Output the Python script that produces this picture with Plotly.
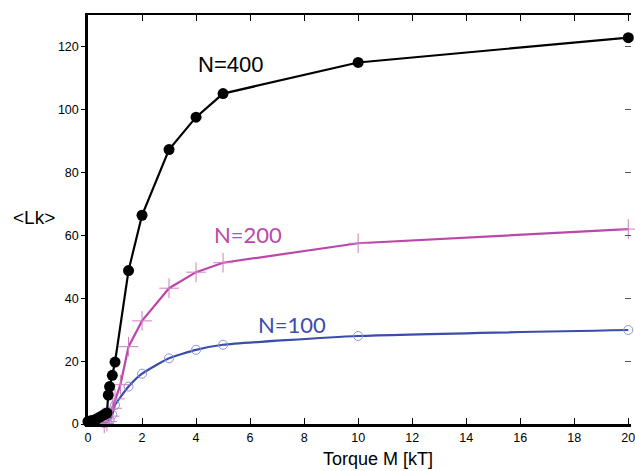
import plotly.graph_objects as go

# N=400 (black filled circles)
x400 = [0, 0.1, 0.2, 0.3, 0.4, 0.5, 0.6, 0.7, 0.75, 0.8, 0.9, 1.0, 1.5, 2, 3, 4, 5, 10, 20]
y400 = [0.8, 1.0, 1.2, 1.5, 2.0, 2.5, 3.0, 3.5, 9.2, 11.9, 15.5, 19.7, 48.8, 66.4, 87.3, 97.6, 105.1, 115.0, 122.9]

# N=200 (magenta crosses)
x200 = [0, 0.2, 0.4, 0.6, 0.7, 0.8, 0.9, 1.0, 1.2, 1.5, 2, 3, 4, 5, 10, 20]
y200 = [-0.6, -0.6, -0.4, 0.2, 0.8, 2.5, 5.0, 8.0, 12.5, 24.6, 32.8, 43.2, 48.3, 51.3, 57.5, 62.0]

# N=100 (blue open circles)
x100 = [0, 0.2, 0.4, 0.6, 0.7, 0.8, 0.9, 1.0, 1.5, 2, 3, 4, 5, 10, 20]
y100 = [-0.6, -0.4, -0.1, 0.3, 0.7, 1.3, 3.0, 6.0, 11.9, 16.0, 20.9, 23.6, 25.2, 28.0, 29.9]

xticks = [0, 2, 4, 6, 8, 10, 12, 14, 16, 18, 20]
yticks = [0, 20, 40, 60, 80, 100, 120]

XR = [0, 20.1]
YR = [0, 130.1]

fig = go.Figure()

fig.add_trace(go.Scatter(
    x=x100, y=y100, mode="lines+markers",
    line=dict(color="#3a4da8", width=2.2, shape="spline", smoothing=0.5),
    marker=dict(symbol="circle-open", size=9, color="#8c93d8", line=dict(width=1)),
    cliponaxis=False, showlegend=False))

fig.add_trace(go.Scatter(
    x=x200, y=y200, mode="lines+markers",
    line=dict(color="#bb48a8", width=2.2),
    marker=dict(symbol="cross-thin-open", size=14, color="#cf7cc4", line=dict(width=1, color="#cf7cc4")),
    cliponaxis=False, showlegend=False))

fig.add_trace(go.Scatter(
    x=x400, y=y400, mode="lines+markers",
    line=dict(color="black", width=2.2),
    marker=dict(symbol="circle", size=11, color="black"),
    cliponaxis=False, showlegend=False))

# dummy trace for mirrored axes
fig.add_trace(go.Scatter(x=[0], y=[0], xaxis="x2", yaxis="y2", mode="markers",
                         marker=dict(opacity=0), showlegend=False, hoverinfo="skip"))

tickfont = dict(family="Liberation Sans, Arial", size=12.5, color="black")

fig.update_layout(
    width=635, height=471,
    margin=dict(l=88, r=0, t=15, b=47),
    plot_bgcolor="white", paper_bgcolor="white",
    xaxis=dict(range=XR, tickvals=xticks, ticks="inside", ticklen=6, tickcolor="black",
               showline=True, linecolor="black", linewidth=2.5, showgrid=False, zeroline=False,
               tickfont=tickfont, ticklabeloverflow="allow"),
    yaxis=dict(range=YR, tickvals=yticks, ticks="outside", ticklen=4, tickcolor="black",
               showline=True, linecolor="black", linewidth=2.5, showgrid=False, zeroline=False,
               tickfont=tickfont),
    xaxis2=dict(range=XR, tickvals=xticks, overlaying="x", side="top", ticks="inside", ticklen=6,
                tickcolor="black", showline=True, linecolor="black", linewidth=1.5,
                showticklabels=False, showgrid=False, zeroline=False),
    yaxis2=dict(range=YR, tickvals=yticks, overlaying="y", side="right", ticks="inside", ticklen=6,
                tickcolor="#555", showline=False,
                showticklabels=False, showgrid=False, zeroline=False),
    annotations=[
        dict(x=5.26, y=114.5, xref="x", yref="y", text="N=400", showarrow=False,
             xanchor="center", yanchor="middle",
             font=dict(family="Liberation Sans, Arial", size=22, color="black")),
        dict(x=5.94, y=60.4, xref="x", yref="y", text="N=200", showarrow=False,
             xanchor="center", yanchor="middle",
             font=dict(family="Lato", size=22, color="#bb48a8")),
        dict(x=7.55, y=31.5, xref="x", yref="y", text="N=100", showarrow=False,
             xanchor="center", yanchor="middle",
             font=dict(family="Lato", size=22, color="#3a4da8")),
        dict(x=(34 - 88) / 547, y=(424 - 217) / 409, xref="paper", yref="paper",
             text="&lt;Lk&gt;", showarrow=False, xanchor="center", yanchor="middle",
             font=dict(family="Liberation Sans, Arial", size=19, color="black")),
        dict(x=(380 - 88) / 547, y=(424 - 459) / 409, xref="paper", yref="paper",
             text="Torque M [kT]", showarrow=False, xanchor="center", yanchor="middle",
             font=dict(family="Liberation Sans, Arial", size=18, color="black")),
    ],
)

fig.write_html("out.html")
